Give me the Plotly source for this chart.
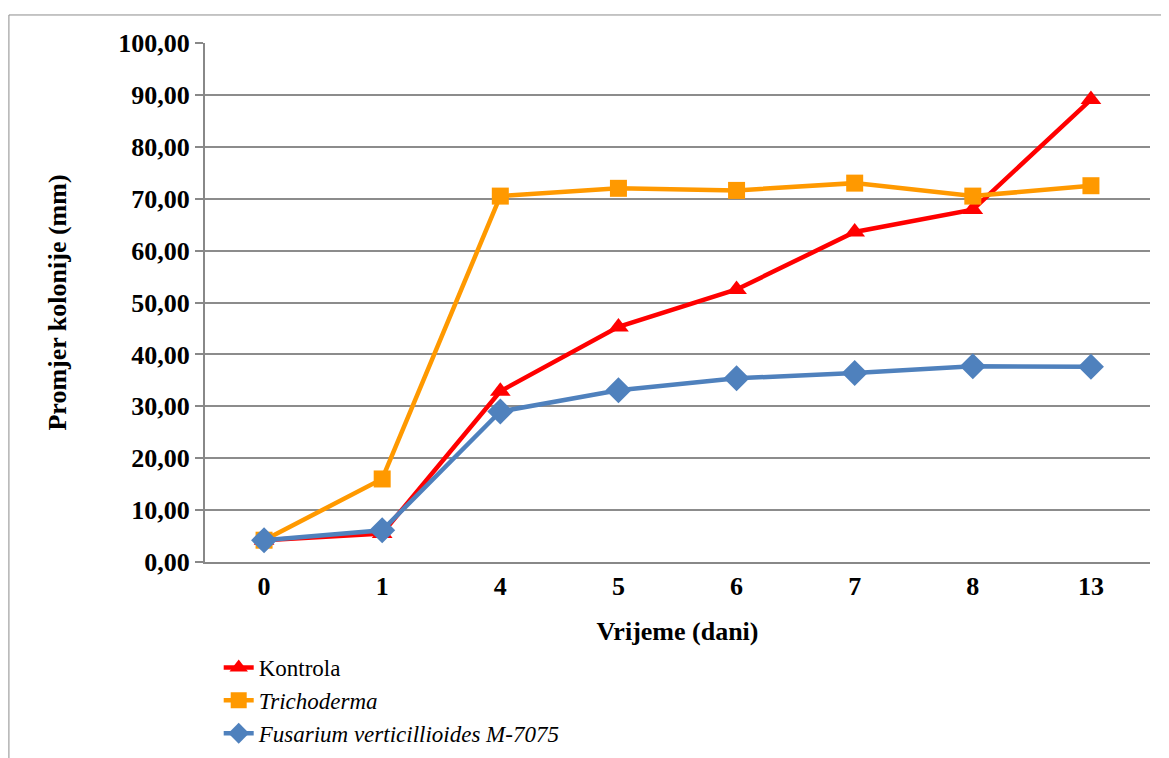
import plotly.graph_objects as go

days = ["0", "1", "4", "5", "6", "7", "8", "13"]
kontrola = [4.2, 5.5, 32.9, 45.3, 52.5, 63.6, 67.9, 89.1]
trichoderma = [4.2, 16.0, 70.5, 72.0, 71.6, 73.0, 70.5, 72.5]
fusarium = [4.2, 6.1, 29.0, 33.1, 35.4, 36.4, 37.7, 37.6]
y_ticks = [0, 10, 20, 30, 40, 50, 60, 70, 80, 90, 100]

FONT = "Liberation Serif, Times New Roman, serif"
FS = 26

fig = go.Figure()
fig.add_trace(go.Scatter(
    x=days, y=kontrola, name="Kontrola", mode="lines+markers",
    line=dict(color="#FF0000", width=4.5),
    marker=dict(symbol="triangle-up", size=18, color="#FF0000")))
fig.add_trace(go.Scatter(
    x=days, y=trichoderma, name="<i>Trichoderma</i>", mode="lines+markers",
    line=dict(color="#FF9900", width=4.5),
    marker=dict(symbol="square", size=17, color="#FF9900")))
fig.add_trace(go.Scatter(
    x=days, y=fusarium, name="<i>Fusarium verticillioides M-7075</i>", mode="lines+markers",
    line=dict(color="#4F81BD", width=4.5),
    marker=dict(symbol="diamond", size=20, color="#4F81BD")))

fig.update_layout(
    width=1169, height=758,
    margin=dict(l=197, r=27, t=35, b=204, autoexpand=False),
    paper_bgcolor="white", plot_bgcolor="white",
    separators=",.",
    font=dict(family=FONT, color="black", size=FS),
    showlegend=True,
    legend=dict(xref="container", yref="container",
                x=(197 + 0.0145 * 945) / 1169, y=0.1583, xanchor="left", yanchor="top",
                font=dict(family=FONT, size=23, color="black"),
                tracegroupgap=0, itemwidth=30, bgcolor="rgba(0,0,0,0)"),
    xaxis=dict(type="category", range=[-0.5, 7.5], automargin=True,
               showgrid=False, showline=True, linecolor="#888888", linewidth=2,
               ticks="", tickfont=dict(family=FONT, size=FS, color="black", weight="bold"),
               title=dict(text="<b>Vrijeme (dani)</b>", font=dict(family=FONT, size=FS, color="black"),
                          standoff=22)),
    yaxis=dict(range=[0, 100], tickvals=y_ticks, tickformat=".2f", automargin=True,
               showgrid=True, gridcolor="#8C8C8C", gridwidth=1.5,
               showline=True, linecolor="#888888", linewidth=2,
               ticks="outside", ticklen=8, tickcolor="#888888", tickwidth=1.5,
               zeroline=False,
               tickfont=dict(family=FONT, size=FS, color="black", weight="bold")),
)

fig.add_annotation(text="<b>Promjer kolonije (mm)</b>", xref="paper", yref="paper",
                   x=-0.1566, y=0.5, xanchor="center", yanchor="middle",
                   textangle=-90, showarrow=False,
                   font=dict(family=FONT, size=FS, color="black"))

fig.add_shape(type="rect", xref="paper", yref="paper",
              x0=-0.2075, x1=1.04, y0=-0.45, y1=1.054,
              line=dict(color="#8C8C8C", width=1), fillcolor="rgba(0,0,0,0)", layer="below")

fig.write_html("out.html")
